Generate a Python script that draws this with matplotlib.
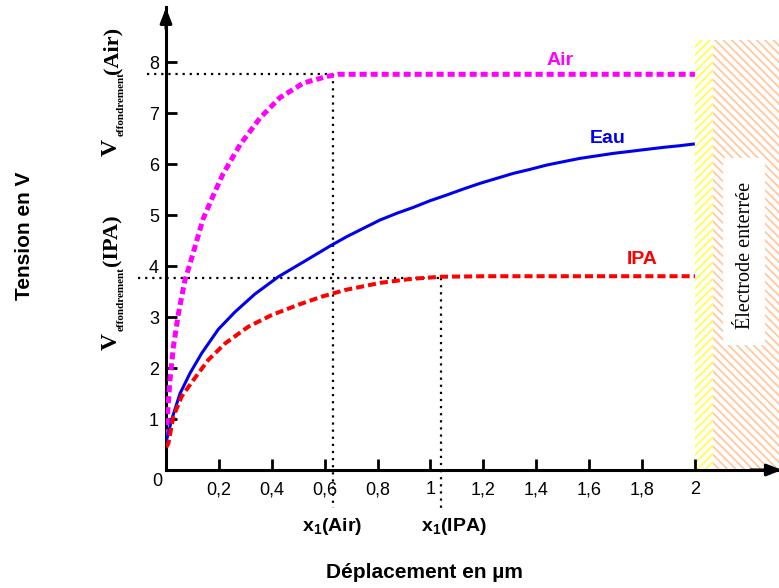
import numpy as np
import matplotlib
matplotlib.use('Agg')
import matplotlib.pyplot as plt
from matplotlib.patches import Rectangle

plt.rcParams['font.family'] = ['Liberation Sans', 'DejaVu Sans']
plt.rcParams['mathtext.fontset'] = 'custom'
plt.rcParams['mathtext.rm'] = 'Liberation Serif'
plt.rcParams['mathtext.bf'] = 'Liberation Serif:bold'
plt.rcParams['mathtext.sf'] = 'Liberation Sans:bold'
plt.rcParams['hatch.linewidth'] = 1.3

# courbes (déplacement en µm, tension en V)
air_x = [0, 0.003, 0.006, 0.015, 0.028, 0.047, 0.072, 0.091, 0.122, 0.14, 0.18, 0.215,
         0.28, 0.355, 0.43, 0.52, 0.61, 0.65, 2.0]
air_y = [0.45, 0.53, 1.12, 1.76, 2.42, 3.07, 3.73, 4.05, 4.6, 4.92, 5.4, 5.8,
         6.38, 6.9, 7.3, 7.59, 7.72, 7.76, 7.76]

eau_x = [0, 0.009, 0.021, 0.053, 0.091, 0.135, 0.198, 0.261, 0.336, 0.425, 0.526, 0.626,
         0.683, 0.746, 0.809, 0.872, 0.935, 0.998, 1.061, 1.124, 1.187, 1.25, 1.313, 1.376,
         1.439, 1.502, 1.565, 1.628, 1.691, 1.754, 1.817, 1.88, 1.943, 1.994]
eau_y = [0.55, 0.72, 0.98, 1.5, 1.9, 2.29, 2.76, 3.1, 3.45, 3.79, 4.1, 4.41,
         4.575, 4.739, 4.902, 5.033, 5.15, 5.28, 5.392, 5.51, 5.621, 5.719, 5.817, 5.895,
         5.98, 6.046, 6.111, 6.16, 6.209, 6.248, 6.288, 6.327, 6.36, 6.392]

ipa_x = [0, 0.009, 0.028, 0.059, 0.103, 0.16, 0.223, 0.311, 0.4, 0.5, 0.589, 0.677,
         0.81, 0.93, 1.04, 1.21, 2.0]
ipa_y = [0.45, 0.52, 1.05, 1.44, 1.76, 2.16, 2.48, 2.81, 3.04, 3.24, 3.4, 3.53,
         3.67, 3.75, 3.79, 3.8, 3.8]

# tensions d'effondrement et positions x1
v_air, x1_air = 7.77, 0.63
v_ipa, x1_ipa = 3.77, 1.04

x_ticks = [0.2, 0.4, 0.6, 0.8, 1.0, 1.2, 1.4, 1.6, 1.8, 2.0]
x_ticklabels = ['0,2', '0,4', '0,6', '0,8', '1', '1,2', '1,4', '1,6', '1,8', '2']
y_ticks = [1, 2, 3, 4, 5, 6, 7, 8]

W, H = 779, 588
fig = plt.figure(figsize=(W / 100, H / 100), dpi=100)
ax = fig.add_axes([166 / W, 118 / H, 612 / W, 463 / H])
ax.set_xlim(0, 2.314)
ax.set_ylim(0, 9.08)

# électrode enterrée (zones hachurées)
ax.add_patch(Rectangle((2.0, 0), 0.068, 8.43, facecolor='white', edgecolor='#ffff55',
                       linewidth=0, hatch='////', zorder=1))
ax.add_patch(Rectangle((2.068, 0), 0.26, 8.43, facecolor='white', edgecolor='#ffc8a0',
                       linewidth=0, hatch='\\\\\\\\', zorder=1, clip_on=False))
ax.add_patch(Rectangle((2.106, 2.45), 0.159, 3.67, facecolor='white', edgecolor='none', zorder=2))
ax.text(2.19, 4.2, 'Électrode enterrée', rotation=90, ha='center', va='center',
        fontsize=14.5, family='Liberation Serif', zorder=3)

# lignes pointillées de repère
dot = (0, (1, 2.2))
ax.plot([-0.072, x1_air], [v_air, v_air], color='black', lw=1.6, ls=dot, clip_on=False, zorder=4)
ax.plot([x1_air, x1_air], [v_air, -0.75], color='black', lw=1.6, ls=dot, clip_on=False, zorder=4)
ax.plot([-0.106, x1_ipa], [v_ipa, v_ipa], color='black', lw=1.6, ls=dot, clip_on=False, zorder=4)
ax.plot([x1_ipa, x1_ipa], [v_ipa, -0.75], color='black', lw=1.6, ls=dot, clip_on=False, zorder=4)

# courbes
ax.plot(air_x, air_y, color='#ff00ff', lw=3.6, ls=(0, (1.4, 0.8)), zorder=5)
ax.plot(eau_x, eau_y, color='#0000ee', lw=2.2, zorder=5)
ax.plot(ipa_x, ipa_y, color='#ff0000', lw=2.9, ls=(0, (2.0, 1.0)), zorder=5)

ax.text(1.49, 8.04, 'Air', color='#ff00ff', fontsize=14, fontweight='bold', ha='center', va='center')
ax.text(1.67, 6.5, 'Eau', color='#0000ee', fontsize=14, fontweight='bold', ha='center', va='center')
ax.text(1.8, 4.12, 'IPA', color='#ff0000', fontsize=14, fontweight='bold', ha='center', va='center')

# axes avec flèches
for side in ['top', 'right']:
    ax.spines[side].set_visible(False)
for side in ['left', 'bottom']:
    ax.spines[side].set_linewidth(2.2)
ax.annotate('', xy=(0, 9.12), xytext=(0, 8.6), xycoords='data',
            arrowprops=dict(arrowstyle='-|>,head_length=0.9,head_width=0.35', color='black', lw=2.2),
            annotation_clip=False)
ax.annotate('', xy=(2.34, 0), xytext=(2.2, 0), xycoords='data',
            arrowprops=dict(arrowstyle='-|>,head_length=0.9,head_width=0.35', color='black', lw=2.2),
            annotation_clip=False)

ax.set_xticks(x_ticks)
ax.set_xticklabels(x_ticklabels)
ax.set_yticks(y_ticks)
ax.tick_params(axis='both', direction='in', length=8, width=2, labelsize=13)
ax.tick_params(axis='x', pad=8)
ax.tick_params(axis='y', pad=5)
ax.text(-0.034, -0.22, '0', fontsize=13, ha='center', va='center', clip_on=False)

ax.text(0.63, -1.1, r'x$_{\mathsf{1}}$(Air)', fontsize=14, fontweight='bold',
        ha='center', va='center', clip_on=False)
ax.text(1.09, -1.1, r'x$_{\mathsf{1}}$(IPA)', fontsize=14, fontweight='bold',
        ha='center', va='center', clip_on=False)

# étiquettes de gauche : V, indice "effondrement", milieu
serif = 'Liberation Serif'
for (v_y, sub_y, par_y, par) in [(147, 104, 50, '(Air)'), (342, 299, 240, '(IPA)')]:
    fig.text(111 / W, 1 - v_y / H, 'V', rotation=90, fontsize=17, fontweight='bold',
             family=serif, ha='center', va='center')
    fig.text(121 / W, 1 - sub_y / H, 'effondrement', rotation=90, fontsize=8, fontweight='bold',
             family=serif, ha='center', va='center')
    fig.text(112 / W, 1 - par_y / H, par, rotation=90, fontsize=16, fontweight='bold',
             family=serif, ha='center', va='center')

fig.text(25 / W, 1 - 236 / H, 'Tension en V', rotation=90, fontsize=15, fontweight='bold',
         ha='center', va='center')
fig.text(424 / W, 1 - 573 / H, 'Déplacement en µm', fontsize=15, fontweight='bold',
         ha='center', va='center')

fig.savefig('out.png', dpi=100)
